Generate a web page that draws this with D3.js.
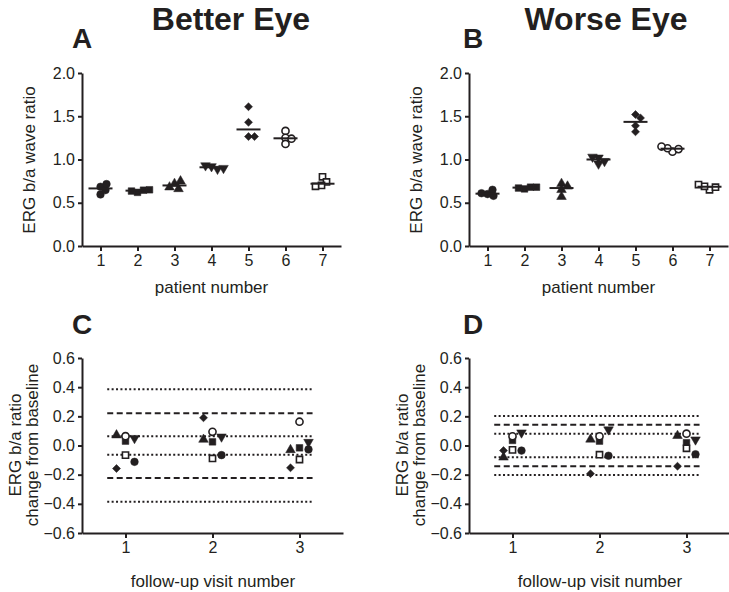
<!DOCTYPE html>
<html>
<head>
<meta charset="utf-8">
<script src="https://cdn.jsdelivr.net/npm/d3@7"></script>
<style>
  body { margin: 0; background: #fff; }
  svg { display: block; font-family: "Liberation Sans", Arial, sans-serif; }
  .axis path, .axis line { stroke: #231f20; stroke-width: 2; }
  .axis text { font-size: 16px; fill: #231f20; font-family: "Liberation Sans", Arial, sans-serif; }
</style>
</head>
<body>
<svg id="chart" width="729" height="592"></svg>
<script>
// patients 1..7, four recordings each (b/a ratio)
const patients = [1, 2, 3, 4, 5, 6, 7];
const betterEye = [
  [0.685, 0.596, 0.646, 0.716],
  [0.62, 0.645, 0.635, 0.65],
  [0.72, 0.66, 0.75, 0.68],
  [0.92, 0.89, 0.93, 0.90],
  [1.61, 1.43, 1.265, 1.265],
  [1.33, 1.25, 1.24, 1.18],
  [0.80, 0.74, 0.70, 0.69]
];
const worseEye = [
  [0.60, 0.58, 0.61, 0.65],
  [0.66, 0.68, 0.67, 0.68],
  [0.72, 0.57, 0.65, 0.69],
  [1.02, 0.95, 0.98, 1.03],
  [1.52, 1.48, 1.39, 1.32],
  [1.09, 1.12, 1.13, 1.15],
  [0.65, 0.68, 0.69, 0.71]
];

// change from baseline, per patient, follow-up visits 1..3
const visits = [1, 2, 3];
const betterChange = [
  [-0.112, -0.066, -0.027],
  [0.030, 0.025, -0.016],
  [0.071, 0.041, -0.030],
  [0.050, 0.060, 0.023],
  [-0.158, 0.190, -0.153],
  [0.064, 0.094, 0.163],
  [-0.066, -0.089, -0.096]
];
const worseChange = [
  [-0.035, -0.070, -0.060],
  [0.035, 0.030, 0.019],
  [-0.081, 0.042, 0.067],
  [0.088, 0.109, 0.040],
  [-0.035, -0.193, -0.142],
  [0.063, 0.063, 0.081],
  [-0.030, -0.063, -0.019]
];
// +/- limits: outer dotted, dashed, inner dotted
const betterLimits = [0.385, 0.222, 0.063];
const worseLimits = [0.202, 0.143, 0.080];
const limitStyles = ['dotted', 'dashed', 'dotted'];

const ratioTicks = [0, 0.5, 1.0, 1.5, 2.0];
const changeTicks = [-0.6, -0.4, -0.2, 0, 0.2, 0.4, 0.6];

const ink = '#231f20';
const svg = d3.select('#chart');

// marker per patient
const markers = [
  {type: d3.symbolCircle, size: 46, rot: 0, open: false},
  {type: d3.symbolSquare, size: 44, rot: 0, open: false},
  {type: d3.symbolTriangle, size: 40, rot: 0, open: false},
  {type: d3.symbolTriangle, size: 40, rot: 180, open: false},
  {type: d3.symbolSquare, size: 32, rot: 45, open: false},
  {type: d3.symbolCircle, size: 40, rot: 0, open: true},
  {type: d3.symbolSquare, size: 38, rot: 0, open: true}
];

function drawMarker(g, pi, x, y) {
  const m = markers[pi];
  g.append('path')
    .attr('d', d3.symbol().type(m.type).size(m.size)())
    .attr('transform', `translate(${x},${y}) rotate(${m.rot})`)
    .attr('fill', m.open ? '#fff' : ink)
    .attr('stroke', ink)
    .attr('stroke-width', m.open ? 1.6 : 0.5);
}

// spread overlapping points sideways
function swarm(ys) {
  const placed = [];
  const minD = 6;
  return ys.map(function(y) {
    let k = 0, dx = 0;
    while (true) {
      dx = k === 0 ? 0 : (k % 2 ? 1 : -1) * Math.ceil(k / 2);
      const hit = placed.some(p => Math.hypot(p.x - dx, p.y - y) < minD);
      if (!hit) break;
      k++;
    }
    placed.push({x: dx, y: y});
    return dx;
  });
}

function yTitle(lines, x, yc) {
  const t = svg.append('text')
    .attr('transform', `translate(${x},${yc}) rotate(-90)`)
    .attr('text-anchor', 'middle')
    .attr('font-size', 17)
    .attr('fill', ink);
  lines.forEach(function(l, i) {
    t.append('tspan').attr('x', 0).attr('dy', i === 0 ? -(lines.length - 1) * 17 : 17).text(l);
  });
}

function ratioPanel(data, left, letter, letterX) {
  const x = d3.scaleLinear().domain([0.5, 7.5]).range([left, left + 259]);
  const y = d3.scaleLinear().domain([0, 2]).range([246, 73]);
  const g = svg.append('g');

  g.append('g').attr('class', 'axis')
    .attr('transform', 'translate(0,246)')
    .call(d3.axisBottom(x).tickValues(patients).tickFormat(d3.format('d')).tickSize(5).tickPadding(4).tickSizeOuter(0));
  g.append('g').attr('class', 'axis')
    .attr('transform', `translate(${left},0)`)
    .call(d3.axisLeft(y).tickValues(ratioTicks).tickFormat(d3.format('.1f')).tickSize(4).tickPadding(3).tickSizeOuter(0));

  data.forEach(function(vals, pi) {
    const cx = x(patients[pi]);
    const offs = swarm(vals.map(v => y(v)));
    vals.forEach((v, j) => drawMarker(g, pi, cx + offs[j], y(v)));
    const med = d3.median(vals);
    g.append('line')
      .attr('x1', cx - 12).attr('x2', cx + 12)
      .attr('y1', y(med)).attr('y2', y(med))
      .attr('stroke', ink).attr('stroke-width', 2);
  });

  svg.append('text').attr('x', (left + left + 259) / 2).attr('y', 293)
    .attr('text-anchor', 'middle').attr('font-size', 17).attr('fill', ink).text('patient number');
  yTitle(['ERG b/a wave ratio'], left - 47, 160);
  svg.append('text').attr('x', letterX).attr('y', 48)
    .attr('font-size', 28).attr('font-weight', 'bold').attr('fill', ink).text(letter);
}

function changePanel(data, limits, left, letter, letterX) {
  const x = d3.scaleLinear().domain([0.5, 3.5]).range([left, left + 261]);
  const y = d3.scaleLinear().domain([-0.6, 0.6]).range([533, 358]);
  const g = svg.append('g');
  const slot = [1, 0, -1, 1, -1, 0, 0];

  g.append('g').attr('class', 'axis')
    .attr('transform', 'translate(0,533)')
    .call(d3.axisBottom(x).tickValues(visits).tickFormat(d3.format('d')).tickSize(5).tickPadding(4).tickSizeOuter(0));
  g.append('g').attr('class', 'axis')
    .attr('transform', `translate(${left},0)`)
    .call(d3.axisLeft(y).tickValues(changeTicks).tickFormat(d3.format('.1f')).tickSize(4).tickPadding(3).tickSizeOuter(0));

  limits.forEach(function(lim, i) {
    [lim, -lim].forEach(function(v) {
      g.append('line')
        .attr('x1', x(0.79)).attr('x2', x(3.15))
        .attr('y1', y(v)).attr('y2', y(v))
        .attr('stroke', ink).attr('stroke-width', 2)
        .attr('stroke-dasharray', limitStyles[i] === 'dashed' ? '6,3.5' : '2,2.4');
    });
  });

  data.forEach(function(vals, pi) {
    vals.forEach((v, j) => drawMarker(g, pi, x(visits[j]) + slot[pi] * 9, y(v)));
  });

  svg.append('text').attr('x', left + 131).attr('y', 587)
    .attr('text-anchor', 'middle').attr('font-size', 17).attr('fill', ink).text('follow-up visit number');
  yTitle(['ERG b/a ratio', 'change from baseline'], left - 44, 445);
  svg.append('text').attr('x', letterX).attr('y', 334)
    .attr('font-size', 28).attr('font-weight', 'bold').attr('fill', ink).text(letter);
}

ratioPanel(betterEye, 82, 'A', 72);
ratioPanel(worseEye, 469, 'B', 463);
changePanel(betterChange, betterLimits, 82, 'C', 72);
changePanel(worseChange, worseLimits, 469, 'D', 463);

svg.append('text').attr('x', 231).attr('y', 30).attr('text-anchor', 'middle')
  .attr('font-size', 32).attr('font-weight', 'bold').attr('fill', ink).text('Better Eye');
svg.append('text').attr('x', 606).attr('y', 30).attr('text-anchor', 'middle')
  .attr('font-size', 32).attr('font-weight', 'bold').attr('fill', ink).text('Worse Eye');
</script>
</body>
</html>
